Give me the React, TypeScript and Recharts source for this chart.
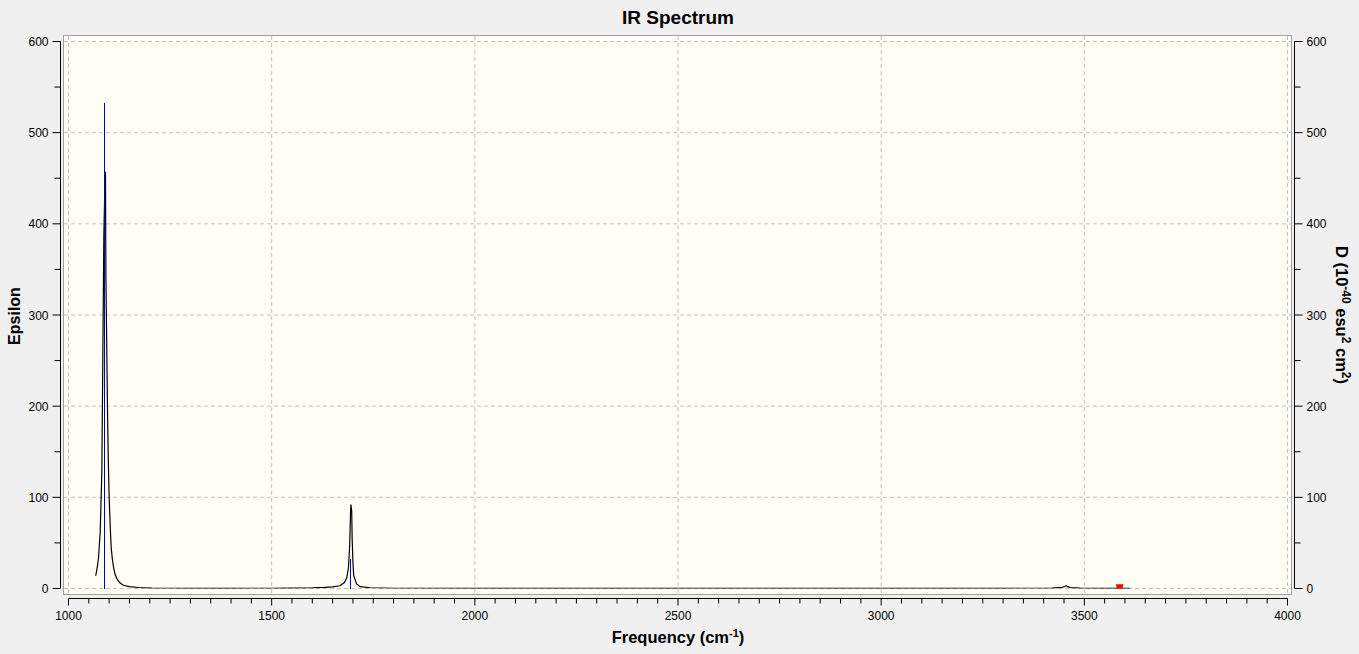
import React from 'react';
import { ComposedChart, Line, XAxis, YAxis, CartesianGrid, ReferenceLine, Scatter } from 'recharts';

// ---------- data ----------
const FREQ = [
  1067, 1071, 1074, 1078, 1082, 1084, 1087, 1089, 1091, 1092, 1094, 1096, 1098, 1100, 1103, 1105,
  1108, 1111, 1115, 1120, 1127, 1135, 1150, 1172, 1205, 1250, 1300, 1400, 1500, 1550, 1600, 1630,
  1650, 1668, 1679, 1685, 1689, 1692, 1694, 1695, 1697, 1698, 1700, 1702, 1709, 1718, 1743, 1800,
  2000, 2500, 3000, 3300, 3420, 3445, 3452, 3455, 3459, 3466, 3490, 3550, 3612,
];
const EPS = [
  14, 24, 34, 62, 127, 228, 388, 430, 457, 345, 270, 195, 140, 100, 65, 45,
  32, 23, 15, 10, 6, 3.5, 2, 1.1, 0.5, 0.3, 0.2, 0.2, 0.3, 0.4, 0.7, 1.2,
  1.8, 3, 6.6, 12, 23, 47, 82, 92, 85, 56, 28, 14, 5, 2, 0.8, 0.3,
  0.1, 0.1, 0.1, 0.2, 0.5, 1.2, 2.2, 3, 2, 1, 0.4, 0.2, 0.1,
];
const STICK_FREQ = [1089, 1695];
const STICK_D = [532, 32];
const MARKER_FREQ = [3587];
const MARKER_VAL = [0];

const X_MAJOR = [1000, 1500, 2000, 2500, 3000, 3500, 4000];
const Y_MAJOR = [0, 100, 200, 300, 400, 500, 600];
const X_STEP = 50;
const Y_STEP = 50;

const curveData = FREQ.map((x, i) => ({ x, y: EPS[i] }));
const markerData = MARKER_FREQ.map((x, i) => ({ x, y: MARKER_VAL[i] }));
const minorTicks = (major: number[], step: number) => {
  const out: number[] = [];
  for (let v = major[0]; v <= major[major.length - 1]; v += step) out.push(v);
  return out;
};
const X_TICKS = minorTicks(X_MAJOR, X_STEP);
const Y_TICKS = minorTicks(Y_MAJOR, Y_STEP);

// ---------- layout ----------
const W = 1359;
const H = 654;
const TOP = 36;
const LEFT_W = 64;
const RIGHT_W = 68;
const BOTTOM_H = 60;
const PAD_X = { left: 4.5, right: 3.5 };
const PAD_Y = { top: 5.5, bottom: 5.5 };
const AX_LEFT = 60.5;
const AX_RIGHT = 1294.5;
const AX_BOTTOM = 598.5;
const FONT = '"Liberation Sans", Arial, sans-serif';

const PLOT_L = LEFT_W;
const PLOT_R = W - RIGHT_W;
const PLOT_T = TOP;
const PLOT_B = H - BOTTOM_H;
const DATA_L = PLOT_L + PAD_X.left;
const DATA_R = PLOT_R - PAD_X.right;
const DATA_T = PLOT_T + PAD_Y.top;
const DATA_B = PLOT_B - PAD_Y.bottom;

const isMajor = (v: number, major: number[]) => major.includes(v);

const LeftTick = (props: any) => {
  const { y, payload } = props;
  const v = payload.value;
  const major = isMajor(v, Y_MAJOR);
  const len = major ? 8 : 6;
  return (
    <g>
      <line x1={AX_LEFT - len} x2={AX_LEFT} y1={y} y2={y} stroke="#000" />
      {major && (
        <text x={AX_LEFT - len - 4} y={y + 4.5} textAnchor="end" fontSize={12} fontFamily={FONT} fill="#000">
          {v}
        </text>
      )}
    </g>
  );
};

const RightTick = (props: any) => {
  const { y, payload } = props;
  const v = payload.value;
  const major = isMajor(v, Y_MAJOR);
  const len = major ? 8 : 6;
  return (
    <g>
      <line x1={AX_RIGHT} x2={AX_RIGHT + len} y1={y} y2={y} stroke="#000" />
      {major && (
        <text x={AX_RIGHT + 12} y={y + 4.5} textAnchor="start" fontSize={12} fontFamily={FONT} fill="#000">
          {v}
        </text>
      )}
    </g>
  );
};

const BottomTick = (props: any) => {
  const { x, payload } = props;
  const v = payload.value;
  const major = isMajor(v, X_MAJOR);
  const len = major ? 7 : 5;
  return (
    <g>
      <line x1={x} x2={x} y1={AX_BOTTOM} y2={AX_BOTTOM + len} stroke="#000" />
      {major && (
        <text x={x} y={620} textAnchor="middle" fontSize={12} fontFamily={FONT} fill="#000">
          {v}
        </text>
      )}
    </g>
  );
};

const Decor = () => (
  <g>
    <rect
      x={PLOT_L - 0.5}
      y={PLOT_T - 0.5}
      width={PLOT_R - PLOT_L + 1}
      height={PLOT_B - PLOT_T + 1}
      fill="none"
      stroke="#a0a0a0"
    />
    <line x1={AX_LEFT} x2={AX_LEFT} y1={DATA_T} y2={DATA_B} stroke="#000" />
    <line x1={AX_RIGHT} x2={AX_RIGHT} y1={DATA_T} y2={DATA_B} stroke="#000" />
    <line x1={DATA_L} x2={DATA_R} y1={AX_BOTTOM} y2={AX_BOTTOM} stroke="#000" />
    <text x={678} y={24} textAnchor="middle" fontSize={19} fontWeight="bold" fontFamily={FONT} fill="#000">
      IR Spectrum
    </text>
    <text x={678} y={643} textAnchor="middle" fontSize={16.5} fontWeight="bold" fontFamily={FONT} fill="#000">
      Frequency (cm
      <tspan dy={-6} fontSize={11}>-1</tspan>
      <tspan dy={6} fontSize={16.5}>)</tspan>
    </text>
    <text
      transform={`translate(20, 316) rotate(-90)`}
      textAnchor="middle"
      fontSize={16}
      fontWeight="bold"
      fontFamily={FONT}
      fill="#000"
    >
      Epsilon
    </text>
    <text
      transform={`translate(1336, 315) rotate(90)`}
      textAnchor="middle"
      fontSize={16.5}
      fontWeight="bold"
      fontFamily={FONT}
      fill="#000"
    >
      D (10
      <tspan dy={-6} fontSize={12}>-40</tspan>
      <tspan dy={6} fontSize={16.5}> esu</tspan>
      <tspan dy={-6} fontSize={12}>2</tspan>
      <tspan dy={6} fontSize={16.5}> cm</tspan>
      <tspan dy={-6} fontSize={12}>2</tspan>
      <tspan dy={6} fontSize={16.5}>)</tspan>
    </text>
  </g>
);

const applyScale = (s: any, v: number): number | null => {
  if (typeof s === 'function') return s(v);
  if (s && typeof s.map === 'function') return s.map(v);
  if (s && typeof s.scale === 'function') return s.scale(v);
  return null;
};

const vGen = (props: any) => {
  const s = props?.xAxis?.scale;
  const off = props?.offset ?? { left: PLOT_L, width: PLOT_R - PLOT_L };
  const lo = X_MAJOR[0];
  const hi = X_MAJOR[X_MAJOR.length - 1];
  return X_MAJOR.map((v) => {
    const r = applyScale(s, v);
    if (typeof r === 'number' && !isNaN(r)) return r;
    const a = off.left + PAD_X.left;
    const b = off.left + off.width - PAD_X.right;
    return a + ((v - lo) / (hi - lo)) * (b - a);
  });
};
const hGen = (props: any) => {
  const s = props?.yAxis?.scale;
  const off = props?.offset ?? { top: PLOT_T, height: PLOT_B - PLOT_T };
  const lo = Y_MAJOR[0];
  const hi = Y_MAJOR[Y_MAJOR.length - 1];
  return Y_MAJOR.map((v) => {
    const r = applyScale(s, v);
    if (typeof r === 'number' && !isNaN(r)) return r;
    const a = off.top + PAD_Y.top;
    const b = off.top + off.height - PAD_Y.bottom;
    return b - ((v - lo) / (hi - lo)) * (b - a);
  });
};

const Marker = (props: any) => {
  const { cx, cy } = props;
  const pts = [
    [cx - 3.5, cy - 4],
    [cx + 3.5, cy - 4],
    [cx + 2.5, cy],
    [cx + 3.5, cy + 4],
    [cx - 3.5, cy + 4],
    [cx - 2.5, cy],
  ]
    .map((p) => p.join(','))
    .join(' ');
  return <polygon points={pts} fill="#ff0000" stroke="#e00000" strokeWidth={0.5} />;
};

export default function App() {
  return (
    <div style={{ position: 'fixed', left: 0, top: 0, width: W, height: H, background: '#f0f0f0' }}>
      <ComposedChart width={W} height={H} margin={{ top: TOP, right: 0, bottom: 0, left: 0 }}>
        <CartesianGrid
          xAxisId="x"
          yAxisId="left"
          fill="#fefef4"
          stroke="#c0c0c0"
          strokeDasharray="4 3"
          verticalCoordinatesGenerator={vGen}
          horizontalCoordinatesGenerator={hGen}
        />
        <XAxis
          xAxisId="x"
          dataKey="x"
          type="number"
          domain={[X_MAJOR[0], X_MAJOR[X_MAJOR.length - 1]]}
          allowDataOverflow
          ticks={X_TICKS}
          interval={0}
          height={BOTTOM_H}
          padding={PAD_X}
          axisLine={false}
          tickLine={false}
          tickSize={0}
          tickMargin={0}
          tick={<BottomTick />}
        />
        <YAxis
          yAxisId="left"
          dataKey="y"
          type="number"
          domain={[Y_MAJOR[0], Y_MAJOR[Y_MAJOR.length - 1]]}
          allowDataOverflow
          ticks={Y_TICKS}
          interval={0}
          width={LEFT_W}
          padding={PAD_Y}
          axisLine={false}
          tickLine={false}
          tickSize={0}
          tickMargin={0}
          tick={<LeftTick />}
        />
        <YAxis
          yAxisId="right"
          orientation="right"
          type="number"
          domain={[Y_MAJOR[0], Y_MAJOR[Y_MAJOR.length - 1]]}
          allowDataOverflow
          ticks={Y_TICKS}
          interval={0}
          width={RIGHT_W}
          padding={PAD_Y}
          axisLine={false}
          tickLine={false}
          tickSize={0}
          tickMargin={0}
          tick={<RightTick />}
        />
        <Line
          xAxisId="x"
          yAxisId="left"
          data={curveData}
          dataKey="y"
          type="linear"
          stroke="#000"
          strokeWidth={1.2}
          dot={false}
          activeDot={false}
          isAnimationActive={false}
        />
        {STICK_FREQ.map((f, i) => (
          <ReferenceLine
            key={f}
            xAxisId="x"
            yAxisId="right"
            segment={[
              { x: f, y: 0 },
              { x: f, y: STICK_D[i] },
            ]}
            stroke="#0000c0"
            strokeWidth={1}
            shapeRendering="crispEdges"
          />
        ))}
        <Scatter
          xAxisId="x"
          yAxisId="left"
          data={markerData}
          dataKey="y"
          shape={<Marker />}
          isAnimationActive={false}
        />
        <Decor />
      </ComposedChart>
    </div>
  );
}
